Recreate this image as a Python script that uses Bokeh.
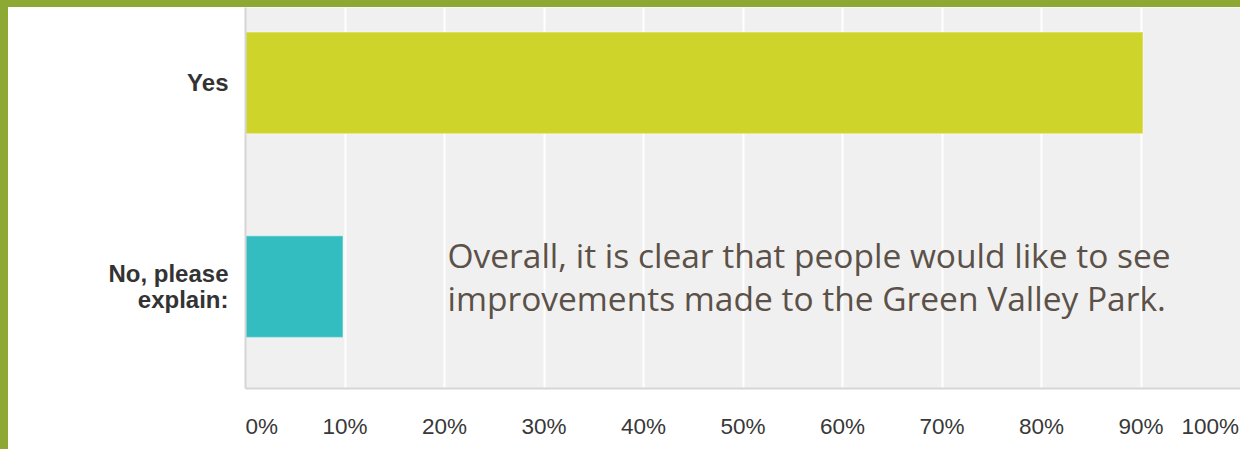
from bokeh.plotting import figure
from bokeh.layouts import column, row
from bokeh.models import Range1d, FixedTicker, Label, ColumnDataSource, Div
from bokeh.embed import file_html
from bokeh.resources import INLINE

# ---- data ----
categories = ["Yes", "No, please\nexplain:"]
values = [90.2, 9.8]
x_ticks = [0, 10, 20, 30, 40, 50, 60, 70, 80, 90, 100]
x_tick_labels = ["0%", "10%", "20%", "30%", "40%", "50%", "60%", "70%", "80%", "90%", "100%"]
note = "Overall, it is clear that people would like to see\nimprovements made to the Green Valley Park."

# ---- style ----
bar_colors = ["#cfd42b", "#33bdc0"]
frame_green = "#8ea834"
edge_nudge_left = 1.64    # edge tick labels are kept inside the chart box
edge_nudge_right = 3.03

ypos = [len(categories) - i - 0.5 for i in range(len(categories))]
label_pos = list(x_ticks)
label_pos[0] += edge_nudge_left
label_pos[-1] -= edge_nudge_right

src = ColumnDataSource(dict(y=ypos, v=values, c=bar_colors))

p = figure(width=1232, height=442, output_backend="svg", toolbar_location=None,
           x_range=Range1d(0, 100), y_range=Range1d(0, 1.87),
           min_border_left=237, min_border_right=0, min_border_top=0, min_border_bottom=61)

p.background_fill_color = "#f0f0f0"
p.border_fill_color = "#ffffff"
p.outline_line_color = None

p.hbar(y="y", left=0, right="v", height=0.5, fill_color="c", line_color="#ffffff",
       line_alpha=0.35, line_width=1.5, source=src)

# x axis
p.xaxis.ticker = FixedTicker(ticks=label_pos)
p.xaxis.major_label_overrides = {t: l for t, l in zip(label_pos, x_tick_labels)}
p.xaxis.axis_line_color = "#d6d6d6"
p.xaxis.axis_line_width = 2
p.xaxis.major_tick_line_color = None
p.xaxis.minor_tick_line_color = None
p.xaxis.major_tick_out = 0
p.xaxis.major_label_standoff = 25
p.xaxis.major_label_text_font = "Liberation Sans"
p.xaxis.major_label_text_font_size = "22.5px"
p.xaxis.major_label_text_color = "#383838"

# y axis
p.yaxis.ticker = FixedTicker(ticks=ypos)
p.yaxis.major_label_overrides = {y: c for y, c in zip(ypos, categories)}
p.yaxis.axis_line_color = "#d6d6d6"
p.yaxis.axis_line_width = 2
p.yaxis.major_tick_line_color = None
p.yaxis.minor_tick_line_color = None
p.yaxis.major_tick_out = 0
p.yaxis.major_label_standoff = 17
p.yaxis.major_label_text_font = "Liberation Sans"
p.yaxis.major_label_text_font_style = "bold"
p.yaxis.major_label_text_font_size = "24px"
p.yaxis.major_label_text_color = "#333333"
p.yaxis.major_label_text_line_height = 0.95

# grid
p.xgrid.ticker = FixedTicker(ticks=x_ticks)
p.xgrid.grid_line_color = "#ffffff"
p.xgrid.grid_line_width = 2
p.ygrid.visible = False

# note
p.add_layout(Label(x=20.3, y=0.766, text=note, text_align="left", text_baseline="top",
                   text_font="Open Sans", text_font_size="33.5px", text_color="#5b5148",
                   text_line_height=0.93))

# green slide frame (top and left strips)
top_strip = Div(text="", width=1240, height=7, margin=0,
                styles={"background-color": frame_green})
left_strip = Div(text="", width=8, height=442, margin=0,
                 styles={"background-color": frame_green})
layout = column(top_strip, row(left_strip, p, spacing=0), spacing=0)

open("out.html", "w").write(file_html(layout, INLINE))
